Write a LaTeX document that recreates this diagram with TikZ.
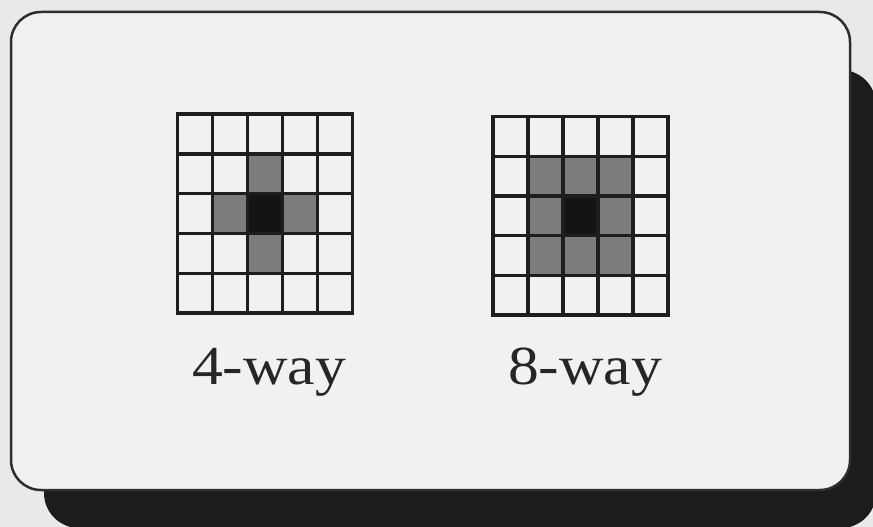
\documentclass[tikz,border=0pt]{standalone}
\usepackage{fontspec}
\setmainfont{Liberation Serif}
\definecolor{bgcol}{HTML}{E9E9E9}
\definecolor{boxcol}{HTML}{F1F1F1}
\definecolor{shadowcol}{HTML}{1C1C1C}
\definecolor{edgecol}{HTML}{2E2E2E}
\definecolor{gridcol}{HTML}{1E1E1E}
\definecolor{shadecol}{HTML}{7C7C7C}
\tikzset{
  gridline/.style={draw=gridcol, line width=3.4pt, line cap=rect},
  nbcell/.style={fill=shadecol},
  centercell/.style={fill=black!92},
  caption/.style={font=\fontsize{55}{60}\selectfont, text=black!85, anchor=base, inner sep=0pt},
}
\begin{document}
\begin{tikzpicture}[x=1pt,y=-1pt]
\useasboundingbox (0,0) rectangle (873,527);
\fill[bgcol] (0,0) rectangle (873,527);
% shadow
\fill[shadowcol, rounded corners=35pt] (44,70) rectangle (876,528);
% main box
\filldraw[fill=boxcol, draw=edgecol, line width=2.5pt, rounded corners=30pt] (11,12) rectangle (850,490);

% ---- 4-way grid ----
\begin{scope}[shift={(177.5,114)}]
  \def\dx{35}\def\dy{39.8}
  \fill[nbcell] (2*\dx,1*\dy) rectangle (3*\dx,2*\dy);
  \fill[nbcell] (1*\dx,2*\dy) rectangle (2*\dx,3*\dy);
  \fill[nbcell] (3*\dx,2*\dy) rectangle (4*\dx,3*\dy);
  \fill[nbcell] (2*\dx,3*\dy) rectangle (3*\dx,4*\dy);
  \fill[centercell] (2*\dx,2*\dy) rectangle (3*\dx,3*\dy);
  \foreach \i in {0,...,5} {
    \draw[gridline] (\i*\dx,0) -- (\i*\dx,5*\dy);
    \draw[gridline] (0,\i*\dy) -- (5*\dx,\i*\dy);
  }
\end{scope}

% ---- 8-way grid ----
\begin{scope}[shift={(493,116.5)}]
  \def\dx{35}\def\dy{39.7}
  \foreach \c/\r in {1/1,2/1,3/1,1/2,3/2,1/3,2/3,3/3}
    \fill[nbcell] (\c*\dx,\r*\dy) rectangle ({(\c+1)*\dx},{(\r+1)*\dy});
  \fill[centercell] (2*\dx,2*\dy) rectangle (3*\dx,3*\dy);
  \foreach \i in {0,...,5} {
    \draw[gridline] (\i*\dx,0) -- (\i*\dx,5*\dy);
    \draw[gridline] (0,\i*\dy) -- (5*\dx,\i*\dy);
  }
\end{scope}

\node[caption] (four) at (269,384) {\scalebox{1.12}[1]{4-way}};
\node[caption] (eight) at (585,384) {\scalebox{1.12}[1]{8-way}};
\end{tikzpicture}
\end{document}
